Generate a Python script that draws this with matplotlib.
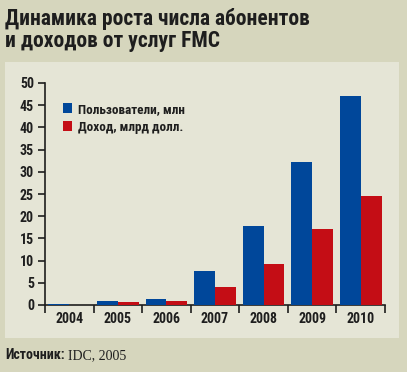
import matplotlib
matplotlib.use("Agg")
import matplotlib.pyplot as plt
from matplotlib.patches import Rectangle
import numpy as np
from matplotlib import font_manager

years = ["2004", "2005", "2006", "2007", "2008", "2009", "2010"]
users = [0.3, 0.8, 1.3, 7.7, 17.8, 32.3, 47.0]
revenue = [0.0, 0.6, 0.8, 4.0, 9.2, 17.1, 24.5]
yticks = [0, 5, 10, 15, 20, 25, 30, 35, 40, 45, 50]
labels = ["Пользователи, млн", "Доход, млрд долл."]

names = {f.name for f in font_manager.fontManager.ttflist}
cond = [n for n in ["Liberation Sans Narrow", "Roboto Condensed", "DejaVu Sans Condensed"] if n in names]
FAM = cond + ["Roboto", "DejaVu Sans"]

BLUE = "#00479a"
RED = "#c40d15"
OUTER = "#d6d6bd"
INNER = "#e5e5d6"
TXT = "#1e1e1e"

fig = plt.figure(figsize=(4.07, 3.72), dpi=100)
fig.patch.set_facecolor(OUTER)
W, H = 407, 372
fig.patches.append(Rectangle((5 / W, 1 - 338 / H), 394 / W, 276 / H, transform=fig.transFigure,
                             facecolor=INNER, edgecolor="none", zorder=-5))

ax = fig.add_axes([45 / W, 1 - 305 / H, 340 / W, 222 / H])
ax.set_zorder(2)
ax.set_facecolor("none")
x = np.arange(len(years))
bw = 0.43
ax.bar(x - bw / 2, users, bw, color=BLUE, label=labels[0], zorder=3)
ax.bar(x + bw / 2, revenue, bw, color=RED, label=labels[1], zorder=3)
ax.set_xlim(-0.5, 6.5)
ax.set_ylim(0, 50)
for s in ["top", "right"]:
    ax.spines[s].set_visible(False)
for s in ["left", "bottom"]:
    ax.spines[s].set_color(TXT)
    ax.spines[s].set_linewidth(1.2)
ax.set_yticks(yticks)
ax.set_yticklabels([str(v) for v in yticks], family=FAM, fontsize=10, weight="bold", color=TXT)
ax.tick_params(axis="y", length=5, width=1.2, color=TXT, pad=3)
ax.set_xticks(np.arange(-0.5, 7, 1))
ax.set_xticklabels([])
ax.tick_params(axis="x", length=6, width=1.2, color=TXT, direction="out")
for i, yr in enumerate(years):
    ax.text(i, -1.6, yr, ha="center", va="top", family=FAM, fontsize=10, weight="bold", color=TXT)

# legend
for k, (lab, col) in enumerate(zip(labels, [BLUE, RED])):
    top = 103 + 18 * k
    fig.patches.append(Rectangle((63 / W, 1 - (top + 10) / H), 9 / W, 10 / H, transform=fig.transFigure,
                                 facecolor=col, edgecolor="none", zorder=5))
    fig.text(78 / W, 1 - (top + 5) / H, lab, ha="left", va="center_baseline", family=FAM, fontsize=9.5,
             weight="bold", color=TXT, zorder=5)

fig.text(5 / W, 1 - 8 / H, "Динамика роста числа абонентов\nи доходов от услуг FMC", ha="left", va="top",
         family=FAM, fontsize=15.5, weight="bold", color=TXT, linespacing=1.0)
t1 = fig.text(5 / W, 1 - 359 / H, "Источник:", ha="left", va="baseline", family=FAM, fontsize=10,
              weight="bold", color=TXT)
fig.canvas.draw()
bb = t1.get_window_extent()
fig.text(bb.x1 / W + 3 / W, 1 - 359 / H, "IDC, 2005", ha="left", va="baseline",
         family=["Liberation Serif", "DejaVu Serif"], fontsize=10, color=TXT)

fig.savefig("out.png", dpi=100, facecolor=OUTER)
